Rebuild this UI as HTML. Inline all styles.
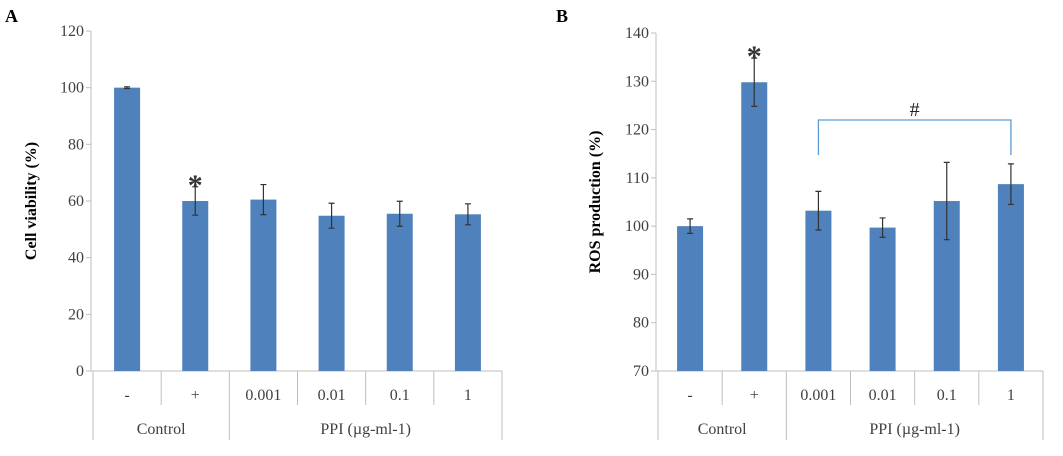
<!DOCTYPE html>
<html><head><meta charset="utf-8"><style>
body{margin:0;background:#fff;}
svg{display:block;font-family:"Liberation Serif",serif;}
</style></head><body>
<svg id="s" width="1063" height="456">
<text x="5" y="22" font-size="18" font-weight="bold" fill="#000">A</text>
<text x="556" y="22" font-size="18" font-weight="bold" fill="#000">B</text>
</svg>
<script>
const categories = ["-", "+", "0.001", "0.01", "0.1", "1"];
const groups = ["Control", "PPI (µg-ml-1)"];
const valuesA = [100, 60, 60.5, 54.8, 55.5, 55.3];
const errorsA = [0.3, 5, 5.3, 4.4, 4.4, 3.7];
const ticksA = [0, 20, 40, 60, 80, 100, 120];
const valuesB = [100, 129.8, 103.2, 99.7, 105.2, 108.7];
const errorsB = [1.5, 5, 4, 2, 8, 4.2];
const ticksB = [70, 80, 90, 100, 110, 120, 130, 140];

const svg = document.getElementById('s');
const NS = 'http://www.w3.org/2000/svg';
function mk(tag, attrs, parent) {
  const e = document.createElementNS(NS, tag);
  for (const k in attrs) e.setAttribute(k, attrs[k]);
  (parent || svg).appendChild(e);
  return e;
}
function panel(p) {
  const g = mk('g', {});
  
  
  const y = v => p.y0 - (v - p.min) / (p.max - p.min) * (p.y0 - p.y1);
  const cw = (p.x1 - p.xs) / categories.length;
  const xc = i => p.xs + cw * (i + 0.5);
  const axis = mk('line', {x1: p.ax, y1: p.y1, x2: p.ax, y2: p.y0, stroke: '#bfbfbf', 'stroke-width': 1}, g);
  
  
  p.ticks.forEach(t => {
    mk('line', {x1: p.ax - 5, x2: p.ax, y1: y(t), y2: y(t), stroke: '#bfbfbf'}, g);
    const tx = mk('text', {x: p.ax - 7, y: y(t) + 5, 'text-anchor': 'end', 'font-size': 16, fill: '#404040'}, g);
    tx.textContent = t;
    
    
  });
  const xa = mk('line', {x1: p.ax, x2: p.x1, y1: p.y0, y2: p.y0, stroke: '#bfbfbf'}, g);
  
  
  for (let i = 0; i <= categories.length; i++) {
    const xx = p.xs + cw * i;
    const long = (i === 0 || i === 2 || i === categories.length);
    mk('line', {x1: xx, x2: xx, y1: p.y0, y2: long ? 440 : 405, stroke: '#bfbfbf'}, g);
  }
  const yt = mk('text', {x: 0, y: 0, 'text-anchor': 'middle', 'font-size': 16, 'font-weight': 'bold', fill: '#000',
    transform: `translate(${p.tx},${(p.y0 + p.y1) / 2}) rotate(-90)`}, g);
  yt.textContent = p.title;
  
  
  p.vals.forEach((v, i) => {
    const b = mk('rect', {x: xc(i) - 13, y: y(v), width: 26, height: p.y0 - y(v), fill: '#4f81bd'}, g);
    
    
    const e = p.errs[i];
    const eb = mk('path', {d: `M${xc(i)},${y(v + e)}V${y(v - e)}M${xc(i) - 3},${y(v + e)}h6M${xc(i) - 3},${y(v - e)}h6`, stroke: '#333', 'stroke-width': 1.2, fill: 'none'}, g);
    
    
    const lb = mk('text', {x: xc(i), y: 400, 'text-anchor': 'middle', 'font-size': 16, fill: '#404040'}, g);
    lb.textContent = categories[i];
    
    
  });
  [[0, 2], [2, 6]].forEach((r, k) => {
    const gl = mk('text', {x: p.xs + cw * (r[0] + r[1]) / 2, y: 434, 'text-anchor': 'middle', 'font-size': 16, fill: '#404040'}, g);
    gl.textContent = groups[k];
    
    
  });
  const st = mk('text', {x: xc(1), y: y(p.vals[1] + p.errs[1]) + p.starDy, 'text-anchor': 'middle', 'font-size': 30, 'font-weight': 'bold', fill: '#333'}, g);
  st.textContent = '*';
  
  
  return {y, xc};
}
panel({name: 'panel-a', ax: 91, xs: 93, x1: 502, y0: 371, y1: 31, min: 0, max: 120, ticks: ticksA, vals: valuesA, errs: errorsA, title: 'Cell viability (%)', tx: 36, starDy: 8});
const pb = panel({name: 'panel-b', ax: 656, xs: 658, x1: 1043, y0: 371, y1: 33, min: 70, max: 140, ticks: ticksB, vals: valuesB, errs: errorsB, title: 'ROS production (%)', tx: 600, starDy: 8});
const br = mk('path', {d: `M${pb.xc(2)},155V120H${pb.xc(5)}V155`, stroke: '#5b9bd5', 'stroke-width': 1.3, fill: 'none'});


const hs = mk('text', {x: (pb.xc(2) + pb.xc(5)) / 2, y: 116, 'text-anchor': 'middle', 'font-size': 20, fill: '#222'});
hs.textContent = '#';


</script>
</body></html>
